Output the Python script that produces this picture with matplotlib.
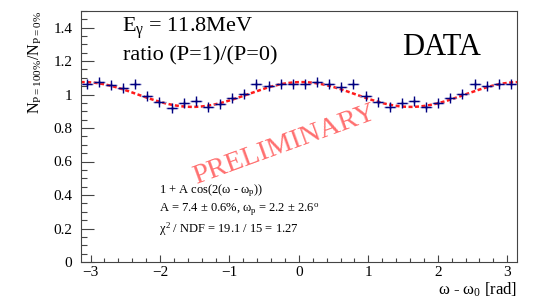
import numpy as np
import matplotlib
matplotlib.use("Agg")
import matplotlib.pyplot as plt
from matplotlib.ticker import MultipleLocator

plt.rcParams['font.family'] = ['Liberation Serif', 'DejaVu Serif']
plt.rcParams['mathtext.fontset'] = 'custom'
plt.rcParams['mathtext.rm'] = 'Liberation Serif'
plt.rcParams['mathtext.it'] = 'Liberation Serif'
plt.rcParams['mathtext.bf'] = 'Liberation Serif:bold'

# data: 36 bins over [-pi, pi]
n_bins = 36
ratio = [1.063, 1.077, 1.057, 1.037, 1.063, 0.991, 0.953, 0.921, 0.947, 0.959,
         0.923, 0.943, 0.977, 1.001, 1.061, 1.053, 1.061, 1.061, 1.061, 1.073,
         1.061, 1.047, 1.065, 0.993, 0.953, 0.923, 0.947, 0.959, 0.923, 0.947,
         0.981, 1.001, 1.063, 1.053, 1.061, 1.061]
ratio_err = [0.012] * n_bins
fit_A = 0.074
fit_wp_deg = 2.2

edges = np.linspace(-np.pi, np.pi, n_bins + 1)
centers = 0.5 * (edges[:-1] + edges[1:])
half_w = 0.5 * (edges[1] - edges[0])

fig = plt.figure(figsize=(5.34, 3.07), dpi=100)
ax = fig.add_axes([80.7/534, 1-262/307, (517-80.7)/534, (262-10.75)/307])

# fit curve
xf = np.linspace(-np.pi, np.pi, 400)
yf = 1 + fit_A*np.cos(2*(xf - np.deg2rad(fit_wp_deg)))
ax.plot(xf, yf, color='#ff1a1a', lw=1.8, dashes=(1.6, 1.0), zorder=2)

# data
ax.errorbar(centers, ratio, xerr=half_w, fmt='none', ecolor='#8c8cc8', elinewidth=1.0, capsize=0, zorder=3)
ax.errorbar(centers, ratio, yerr=ratio_err, fmt='+', color='#000080', ms=7, mew=1.0,
            ecolor='#000080', elinewidth=1.0, capsize=0, zorder=4)

ax.set_xlim(-np.pi, np.pi)
ax.set_ylim(0, 1.5)
ax.xaxis.set_major_locator(MultipleLocator(1))
ax.xaxis.set_minor_locator(MultipleLocator(0.2))
ax.yaxis.set_major_locator(MultipleLocator(0.2))
ax.yaxis.set_minor_locator(MultipleLocator(0.05))
ax.set_xticks([-3, -2, -1, 0, 1, 2, 3])
ax.set_xticklabels(['\u22123', '\u22122', '\u22121', '0', '1', '2', '3'])
ax.set_yticks([0, 0.2, 0.4, 0.6, 0.8, 1.0, 1.2, 1.4])
ax.set_yticklabels(['0', '0.2', '0.4', '0.6', '0.8', '1', '1.2', '1.4'])
ax.tick_params(axis='x', which='major', direction='in', length=5.4, width=0.8, color='#444444',
               labelsize=11, pad=3, top=False)
ax.tick_params(axis='x', which='minor', direction='in', length=2.7, width=0.8, color='#444444', top=False)
ax.tick_params(axis='y', which='major', direction='in', length=9.4, width=0.8, color='#444444',
               labelsize=11, pad=6, right=False)
ax.tick_params(axis='y', which='minor', direction='in', length=4.5, width=0.8, color='#444444', right=False)
for s in ax.spines.values():
    s.set_color('#444444')
    s.set_linewidth(0.8)

ax.set_ylabel(r'N$_{\mathrm{P=100\%}}$/N$_{\mathrm{P=0\%}}$', fontsize=11.5, loc='top', labelpad=7)
ax.set_xlabel(r'$\omega$ - $\omega_{0}$ [rad]', fontsize=12, loc='right', labelpad=1)

ax.text(-2.55, 1.373, r'E$_{\gamma}$ = 11.8MeV', fontsize=16, va='baseline', ha='left')
ax.text(-2.53, 1.206, 'ratio (P=1)/(P=0)', fontsize=16, va='baseline', ha='left')
ax.text(1.48, 1.236, 'DATA', fontsize=22, va='baseline', ha='left')

ax.text(-2.02, 0.410, r'1 + A cos(2($\omega$ - $\omega_{p}$))', fontsize=9, va='baseline', ha='left')
ax.text(-2.02, 0.300, r'A = 7.4 $\pm$ 0.6%, $\omega_{p}$ = 2.2 $\pm$ 2.6$^{o}$', fontsize=9, va='baseline', ha='left')
ax.text(-2.02, 0.176, r'$\chi^{2}$ / NDF = 19.1 / 15 = 1.27', fontsize=9, va='baseline', ha='left')

fig.text(285/534, 1-145/307, 'PRELIMINARY', fontsize=20.5, color='#ff6060', alpha=0.9,
         rotation=20, ha='center', va='center', rotation_mode='anchor')

fig.savefig('out.png', dpi=100)
